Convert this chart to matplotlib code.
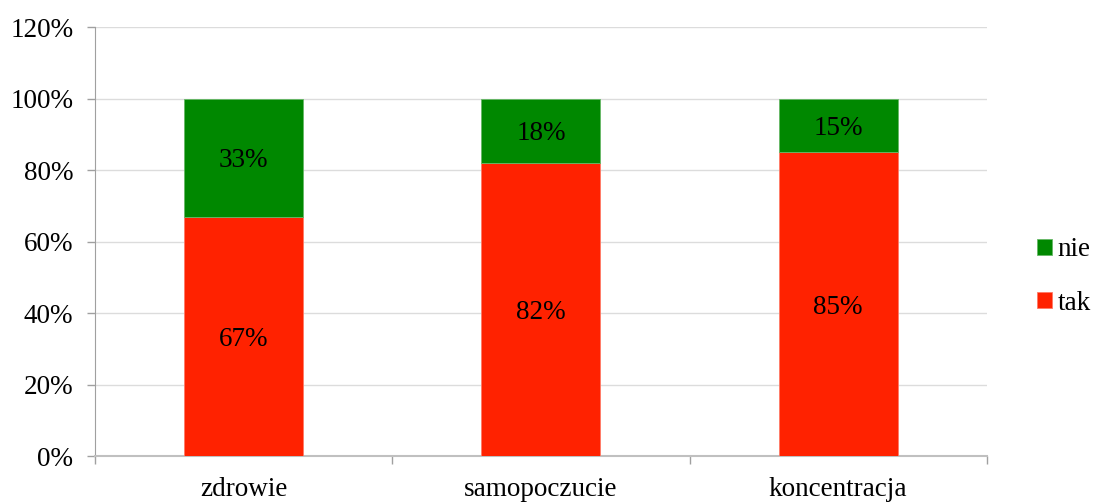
import matplotlib
matplotlib.use("Agg")
import matplotlib.pyplot as plt
import numpy as np

categories = ["zdrowie", "samopoczucie", "koncentracja"]
tak = [67, 82, 85]
nie = [33, 18, 15]
colors = {"tak": "#FF2200", "nie": "#008800"}

plt.rcParams["font.family"] = ["Liberation Serif", "DejaVu Serif"]
FS = 19.5

fig = plt.figure(figsize=(10.94, 5.03), dpi=100)
ax = fig.add_axes([0.0868, 0.0934, 0.8152, 0.8526])

x = np.arange(len(categories))
width = 0.4
b_tak = ax.bar(x, tak, width, color=colors["tak"], label="tak", zorder=3,
               edgecolor="#ff7a66", linewidth=0.6)
b_nie = ax.bar(x, nie, width, bottom=tak, color=colors["nie"], label="nie", zorder=3,
               edgecolor="#66b866", linewidth=0.6)

for i in range(len(categories)):
    ax.text(x[i], tak[i] / 2, f"{tak[i]}%", ha="center", va="center_baseline",
            fontsize=FS, color="black", zorder=4)
    ax.text(x[i], tak[i] + nie[i] / 2, f"{nie[i]}%", ha="center", va="center_baseline",
            fontsize=FS, color="black", zorder=4)

ax.set_xlim(-0.5, len(categories) - 0.5)
ax.set_ylim(0, 120)
ax.set_yticks(np.arange(0, 121, 20))
ax.set_yticklabels([f"{v}%" for v in range(0, 121, 20)], fontsize=FS)
ax.yaxis.grid(True, color="#dcdcdc", linewidth=1, zorder=0)
ax.set_axisbelow(True)

ax.set_xticks(x)
ax.set_xticklabels(categories, fontsize=FS)
ax.set_xticks(np.arange(-0.5, len(categories), 1.0), minor=True)
ax.tick_params(axis="x", which="major", length=0, pad=15)
ax.tick_params(axis="x", which="minor", length=6, color="#a0a0a0", width=1)
ax.tick_params(axis="y", length=6, color="#a0a0a0", width=1, pad=9.5)

for s in ["top", "right"]:
    ax.spines[s].set_visible(False)
ax.spines["left"].set_color("#a0a0a0")
ax.spines["bottom"].set_color("#c0c0c0")
ax.spines["bottom"].set_linewidth(1.5)

handles = [b_nie, b_tak]
leg = fig.legend(handles, ["nie", "tak"], loc="center left",
                 bbox_to_anchor=(0.938, 0.45), frameon=False, fontsize=FS,
                 handlelength=0.55, handleheight=0.55, handletextpad=0.2,
                 labelspacing=1.05, borderaxespad=0)

fig.savefig("out.png", dpi=100)
